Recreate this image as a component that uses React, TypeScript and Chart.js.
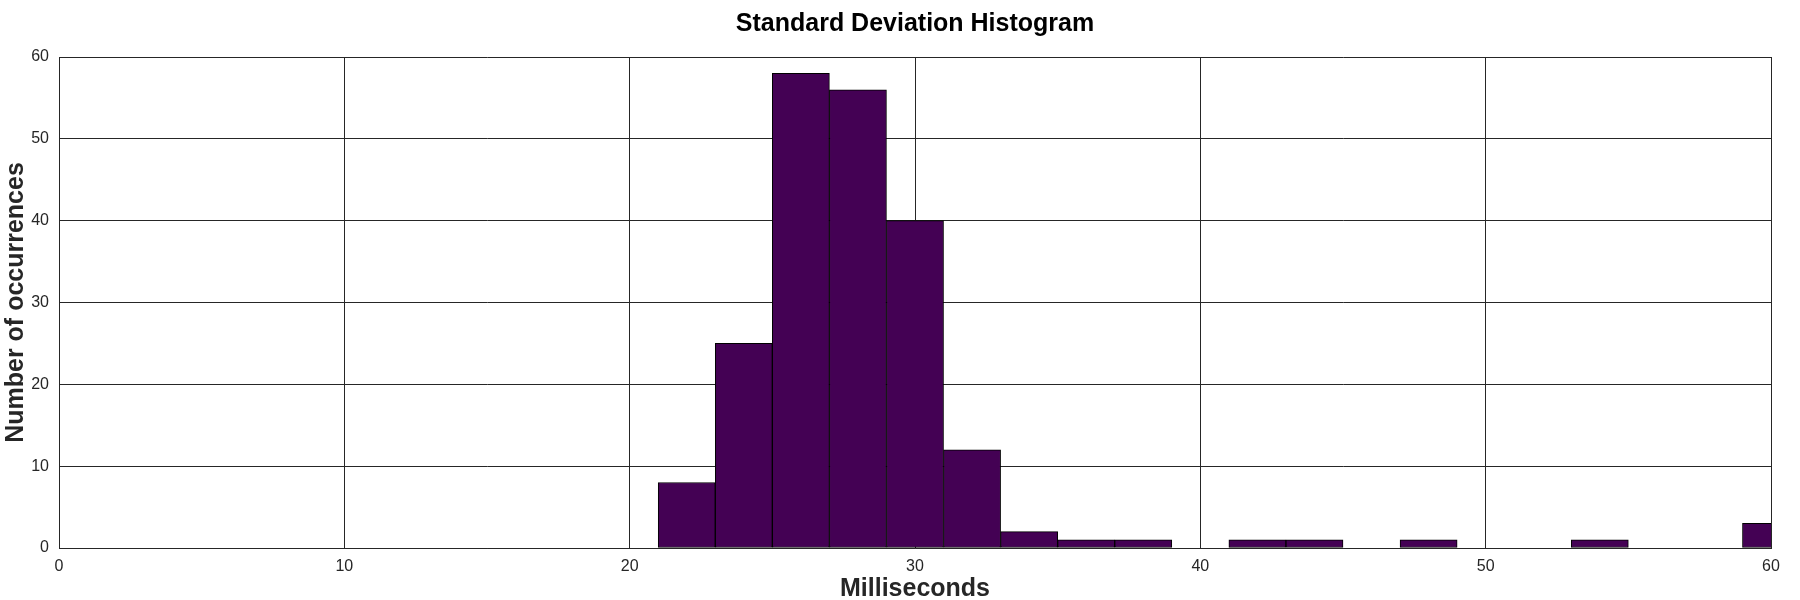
import React, { useEffect, useRef } from "react";
import { Chart, registerables } from "chart.js";

Chart.register(...registerables);

// Histogram bins (ms): each bin starts at binStarts[i] and is binWidth wide
const binWidth = 2;
const binStarts = [21, 23, 25, 27, 29, 31, 33, 35, 37, 39, 41, 43, 45, 47, 49, 51, 53, 55, 57, 59];
const counts = [8, 25, 58, 56, 40, 12, 2, 1, 1, 0, 1, 1, 0, 1, 0, 0, 1, 0, 0, 3];

const xMin = 0;
const xMax = 60;
const xStep = 10;
const yMin = 0;
const yMax = 60;
const yStep = 10;

const titleText = "Standard Deviation Histogram";
const xTitle = "Milliseconds";
const yTitle = "Number of occurrences";

const FONT = "'Liberation Sans', Arial, Helvetica, sans-serif";
const AXIS_COLOR = "#262626";
const BAR_COLOR = "#440154";

export default function App() {
  const canvasRef = useRef<HTMLCanvasElement | null>(null);

  useEffect(() => {
    if (!canvasRef.current) return;
    const data = binStarts.map((s, i) => ({ x: s + binWidth / 2, y: counts[i] }));
    const chart = new Chart(canvasRef.current, {
      type: "bar",
      data: {
        datasets: [
          {
            data,
            backgroundColor: BAR_COLOR,
            borderColor: "#000000",
            borderWidth: 1,
            borderSkipped: false,
            barPercentage: 1,
            categoryPercentage: 1,
          },
        ],
      },
      options: {
        animation: false,
        responsive: true,
        maintainAspectRatio: false,
        devicePixelRatio: 1,
        layout: { padding: { left: 0, right: 29, top: 0, bottom: 0 } },
        plugins: {
          legend: { display: false },
          tooltip: { enabled: false },
          title: {
            display: true,
            fullSize: false,
            text: titleText,
            color: "#000000",
            font: { family: FONT, size: 25, weight: "bold", lineHeight: 1.2 },
            padding: { top: 9, bottom: 18 },
          },
        },
        scales: {
          x: {
            type: "linear",
            min: xMin,
            max: xMax,
            offset: false,
            afterFit: (scale: any) => {
              scale.height = 52;
            },
            ticks: {
              stepSize: xStep,
              color: AXIS_COLOR,
              font: { family: FONT, size: 16 },
              padding: 9,
              maxRotation: 0,
            },
            grid: {
              offset: false,
              color: AXIS_COLOR,
              lineWidth: 1,
              drawTicks: false,
            },
            border: { display: true, color: AXIS_COLOR, width: 1 },
            title: {
              display: true,
              text: xTitle,
              color: AXIS_COLOR,
              font: { family: FONT, size: 25, weight: "bold", lineHeight: 1 },
              padding: { top: 0, bottom: -2 },
            },
          },
          y: {
            type: "linear",
            min: yMin,
            max: yMax,
            afterFit: (scale: any) => {
              scale.width = 59;
            },
            ticks: {
              stepSize: yStep,
              color: AXIS_COLOR,
              font: { family: FONT, size: 16 },
              padding: 10,
            },
            grid: {
              color: AXIS_COLOR,
              lineWidth: 1,
              drawTicks: false,
            },
            border: { display: true, color: AXIS_COLOR, width: 1 },
            title: {
              display: true,
              text: yTitle,
              color: AXIS_COLOR,
              font: { family: FONT, size: 25, weight: "bold", lineHeight: 1 },
              padding: { top: 4, bottom: 0 },
            },
          },
        },
      },
    });
    return () => chart.destroy();
  }, []);

  return (
    <div style={{ position: "fixed", left: 0, top: 0, width: 1800, height: 600, background: "#ffffff" }}>
      <canvas ref={canvasRef} />
    </div>
  );
}
